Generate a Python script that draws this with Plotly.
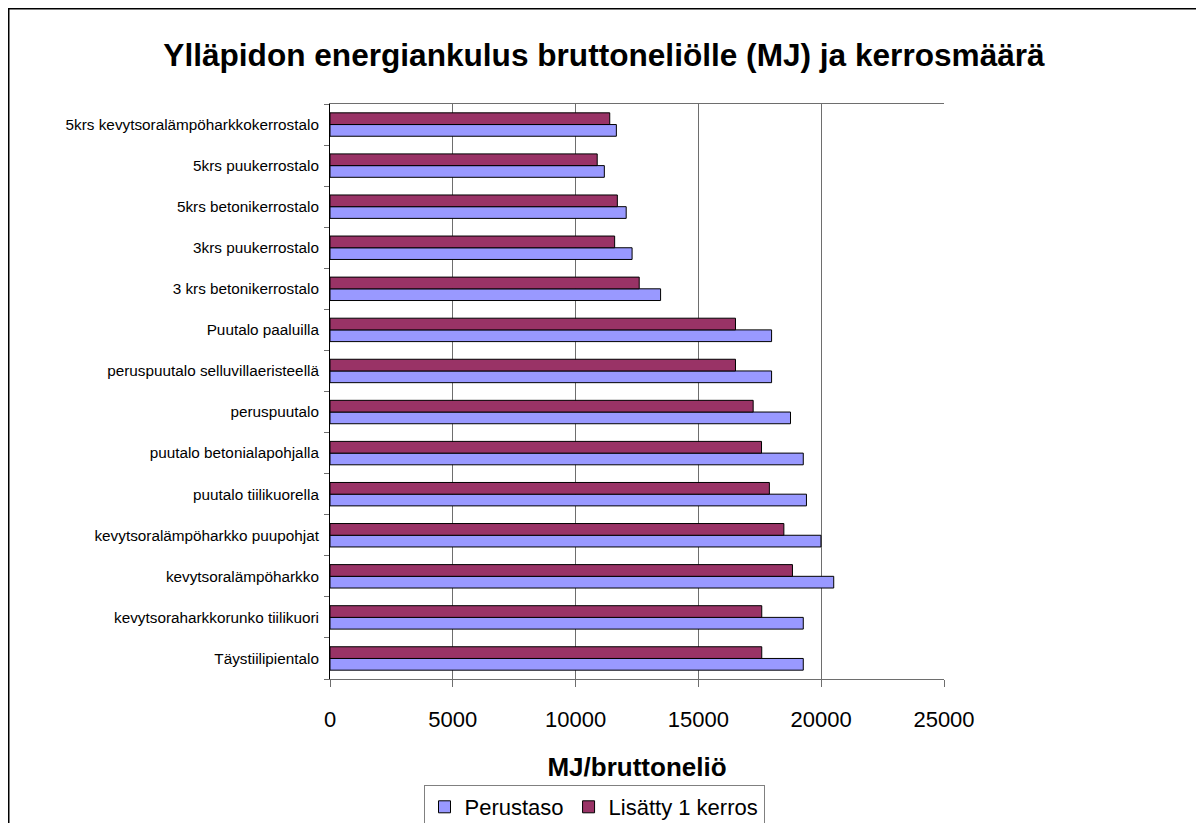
import plotly.graph_objects as go

categories = [
    "Täystiilipientalo",
    "kevytsoraharkkorunko tiilikuori",
    "kevytsoralämpöharkko",
    "kevytsoralämpöharkko puupohjat",
    "puutalo tiilikuorella",
    "puutalo betonialapohjalla",
    "peruspuutalo",
    "peruspuutalo selluvillaeristeellä",
    "Puutalo paaluilla",
    "3 krs betonikerrostalo",
    "3krs puukerrostalo",
    "5krs betonikerrostalo",
    "5krs puukerrostalo",
    "5krs kevytsoralämpöharkkokerrostalo",
]
perustaso = [19270, 19270, 20510, 19990, 19400, 19270, 18750, 17980, 17980, 13460, 12300, 12060, 11170, 11660]
lisatty = [17580, 17580, 18830, 18480, 17890, 17570, 17230, 16510, 16510, 12590, 11590, 11700, 10880, 11390]
x_ticks = [0, 5000, 10000, 15000, 20000, 25000]

FONT = "Liberation Sans, Arial, sans-serif"

fig = go.Figure()
fig.add_trace(go.Bar(
    y=categories, x=perustaso, orientation="h", name="Perustaso",
    marker=dict(color="#9999FF", line=dict(color="#000000", width=1)),
))
fig.add_trace(go.Bar(
    y=categories, x=lisatty, orientation="h", name="Lisätty 1 kerros",
    marker=dict(color="#993366", line=dict(color="#000000", width=1)),
))

# the page body adds an 8px offset, so figure positions are reference - 8
OFF = 8
L, R, T, B = 330 - OFF, 944 - OFF, 104 - OFF, 679 - OFF
W, H = 1204 - OFF, 823 - OFF
PW, PH = R - L, B - T


def px_x(fx):
    return (fx - L) / PW


def px_y(fy):
    return (B - fy) / PH


fig.update_layout(
    width=W, height=H,
    margin=dict(l=L, r=W - R, t=T, b=H - B, autoexpand=False),
    paper_bgcolor="white", plot_bgcolor="white",
    barmode="group", bargap=0.43, bargroupgap=0,
    font=dict(family=FONT, color="#000000"),
    title=dict(
        text="<b>Ylläpidon energiankulus bruttoneliölle (MJ) ja kerrosmäärä</b>",
        font=dict(size=31.6, family=FONT, color="#000000"),
        xref="container", yref="container",
        x=(604 - OFF) / W, xanchor="center", y=1 - (55 - OFF) / H, yanchor="middle",
    ),
    xaxis=dict(
        range=[0, 25000], tickvals=x_ticks, ticktext=[str(v) for v in x_ticks],
        showgrid=True, gridcolor="#6e6e6e", gridwidth=1,
        showline=True, linecolor="#6e6e6e", linewidth=1, mirror=True,
        ticks="outside", ticklen=7, tickcolor="#6e6e6e",
        ticklabelstandoff=14,
        tickfont=dict(size=22, family=FONT, color="#000000"),
        title=dict(text="<b>MJ/bruttoneliö</b>", font=dict(size=26, family=FONT, color="#000000"), standoff=26),
        zeroline=False, fixedrange=True,
    ),
    yaxis=dict(
        type="category", categoryorder="array", categoryarray=categories,
        showgrid=False, showline=True, linecolor="#000000", linewidth=1,
        ticks="outside", ticklen=5, tickcolor="#6e6e6e", tickson="boundaries",
        ticklabelstandoff=7,
        tickfont=dict(size=15.3, family=FONT, color="#000000"),
        zeroline=False, fixedrange=True,
    ),
    legend=dict(
        orientation="h", traceorder="normal",
        x=px_x(594 - OFF), xanchor="center",
        y=px_y(807 - OFF), yanchor="middle",
        bordercolor="#808080", borderwidth=1, bgcolor="white",
        font=dict(size=22, family=FONT, color="#000000"),
        itemwidth=30, tracegroupgap=0,
    ),
    showlegend=True,
    shapes=[dict(
        type="rect", xref="paper", yref="paper",
        x0=px_x(0.75), x1=px_x(W + 20),
        y0=px_y(H + 20), y1=px_y(0.75),
        line=dict(color="#000000", width=1.5), fillcolor="rgba(0,0,0,0)", layer="below",
    )],
)

fig.write_html("out.html")
